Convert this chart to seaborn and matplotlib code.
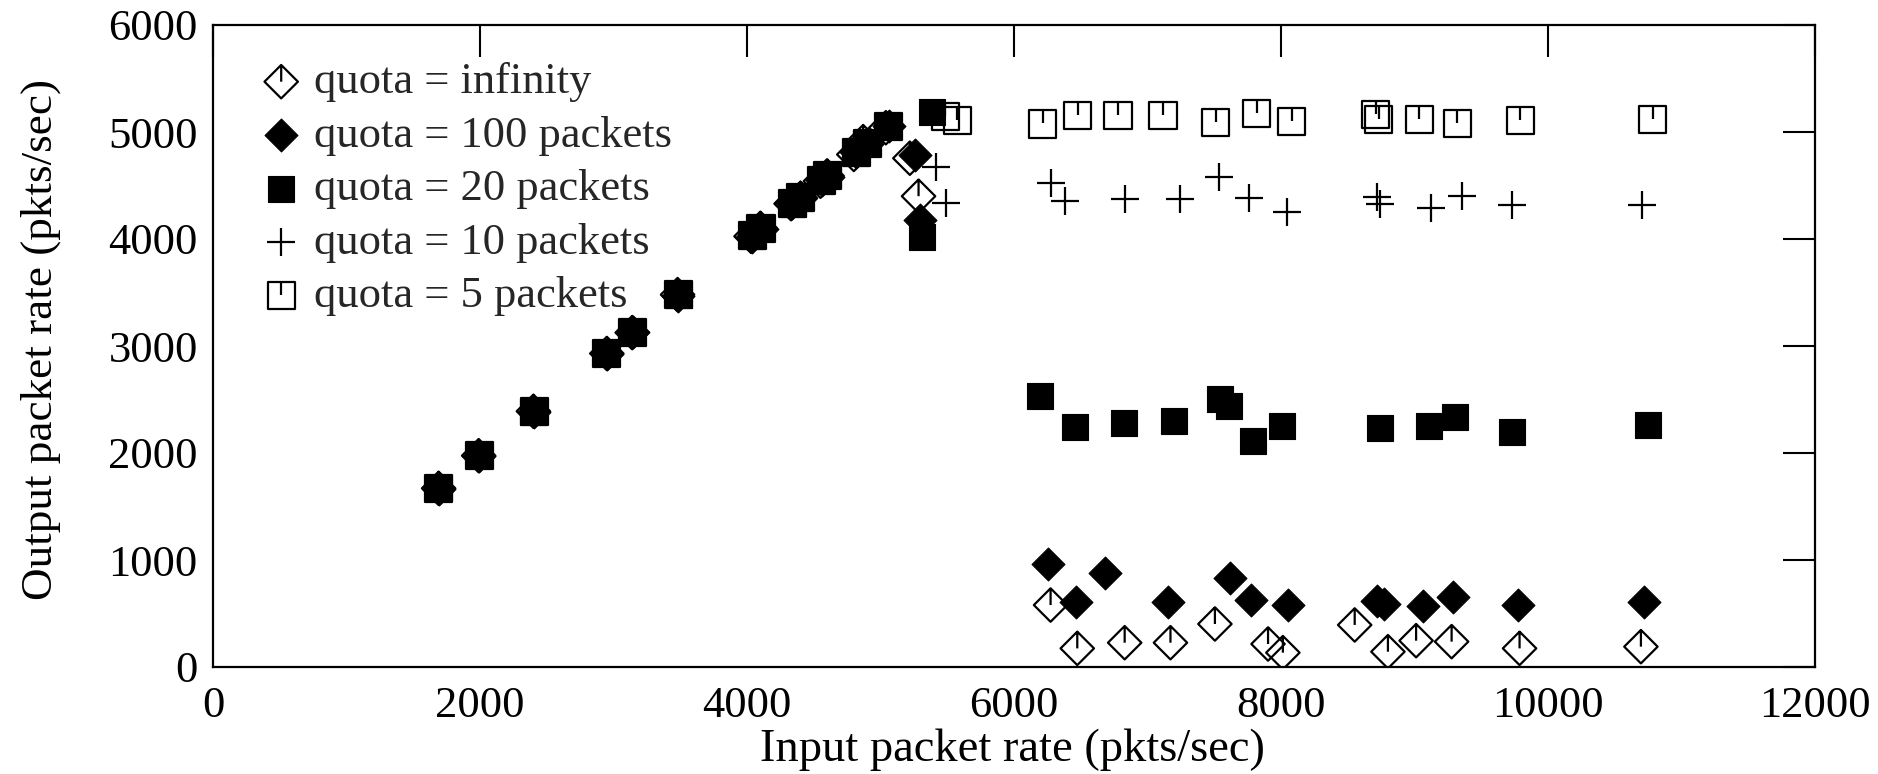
import numpy as np
import pandas as pd
import matplotlib
matplotlib.use("Agg")
import matplotlib.pyplot as plt
from matplotlib.path import Path
import seaborn as sns

# ---------------- data ----------------
labels = ["quota = infinity", "quota = 100 packets", "quota = 20 packets",
          "quota = 10 packets", "quota = 5 packets"]

inf_x = [1690, 1990, 2400, 2950, 3140, 3480, 4030, 4100, 4330, 4400, 4550, 4600, 4800, 4870, 5040,
         5220, 5285, 6274, 6474, 6829, 7172, 7505, 7903, 8014, 8552, 8801, 9012, 9278, 9787, 10696]
inf_y = [1670, 1975, 2390, 2930, 3125, 3480, 4025, 4100, 4330, 4380, 4540, 4590, 4790, 4910, 5040,
         4755, 4400, 579, 174, 227, 227, 402, 215, 134, 393, 143, 246, 237, 174, 190]

q100_x = [1690, 1995, 2405, 2955, 3145, 3485, 4040, 4110, 4340, 4400, 4560, 4610, 4820, 4900, 5060,
          5260, 5296, 6252, 6463, 6679, 7150, 7615, 7776, 8053, 8720, 8773, 9067, 9289, 9776, 10718]
q100_y = [1665, 1970, 2380, 2925, 3130, 3470, 4020, 4095, 4335, 4390, 4550, 4580, 4810, 4890, 5060,
          4785, 4180, 963, 611, 882, 611, 832, 626, 576, 620, 585, 570, 657, 576, 611]

q20_x = [1695, 1990, 2400, 2945, 3140, 3490, 4035, 4105, 4345, 4395, 4555, 4605, 4815, 4895, 5055,
         5309, 5384, 6197, 6457, 6823, 7195, 7544, 7610, 7793, 8008, 8740, 9111, 9305, 9732, 10751]
q20_y = [1675, 1980, 2385, 2935, 3135, 3480, 4030, 4105, 4325, 4385, 4545, 4595, 4805, 4900, 5055,
         4020, 5190, 2536, 2240, 2280, 2296, 2505, 2439, 2112, 2252, 2231, 2250, 2337, 2200, 2265]

q10_x = [1690, 1990, 2400, 2950, 3145, 3485, 4040, 4100, 4340, 4400, 4560, 4600, 4820, 4900, 5060,
         5416, 5491, 6274, 6380, 6832, 7243, 7539, 7757, 8048, 8722, 8739, 9121, 9359, 9734, 10703]
q10_y = [1670, 1975, 2385, 2930, 3130, 3475, 4030, 4100, 4330, 4385, 4550, 4590, 4800, 4900, 5055,
         4670, 4340, 4526, 4358, 4371, 4371, 4583, 4386, 4255, 4389, 4327, 4286, 4402, 4318, 4318]

q5_x = [1690, 1995, 2405, 2950, 3145, 3490, 4040, 4105, 4340, 4400, 4560, 4605, 4820, 4900, 5060,
        5484, 5576, 6216, 6479, 6779, 7116, 7511, 7818, 8081, 8710, 8731, 9035, 9322, 9791, 10786]
q5_y = [1670, 1975, 2385, 2930, 3130, 3480, 4030, 4100, 4335, 4385, 4550, 4590, 4805, 4895, 5055,
        5143, 5106, 5075, 5153, 5153, 5153, 5087, 5174, 5097, 5165, 5118, 5118, 5080, 5106, 5118]

x_ticks = [0, 2000, 4000, 6000, 8000, 10000, 12000]
y_ticks = [0, 1000, 2000, 3000, 4000, 5000, 6000]

# ---------------- style ----------------
sns.set_theme(style="white")
plt.rcParams["font.family"] = ["Liberation Serif", "DejaVu Serif"]

TICK_FS = 32
LEG_FS = 32

# custom markers
open_diamond = Path(
    [(0, 1), (1, 0), (0, -1), (-1, 0), (0, 1), (0, 1), (0, 0)],
    [Path.MOVETO, Path.LINETO, Path.LINETO, Path.LINETO, Path.CLOSEPOLY, Path.MOVETO, Path.LINETO])
filled_diamond = Path(
    [(0, 1), (1, 0), (0, -1), (-1, 0), (0, 1)],
    [Path.MOVETO, Path.LINETO, Path.LINETO, Path.LINETO, Path.CLOSEPOLY])
open_square = Path(
    [(-1, 1), (1, 1), (1, -1), (-1, -1), (-1, 1), (0, 1), (0, 0.05)],
    [Path.MOVETO, Path.LINETO, Path.LINETO, Path.LINETO, Path.CLOSEPOLY, Path.MOVETO, Path.LINETO])

fig = plt.figure(figsize=(18.78, 7.74), dpi=100)
ax = fig.add_axes([213 / 1878, 1 - 667 / 774, (1815 - 213) / 1878, (667 - 25) / 774])

series = [
    (inf_x, inf_y, labels[0], dict(marker=open_diamond, s=580, facecolor="none", edgecolor="black", linewidth=1.6)),
    (q100_x, q100_y, labels[1], dict(marker=filled_diamond, s=560, facecolor="black", edgecolor="black", linewidth=0.8)),
    (q20_x, q20_y, labels[2], dict(marker="s", s=350, facecolor="black", edgecolor="black", linewidth=0.8)),
    (q10_x, q10_y, labels[3], dict(marker="+", s=380, color="black", linewidth=1.6)),
    (q5_x, q5_y, labels[4], dict(marker=open_square, s=380, facecolor="none", edgecolor="black", linewidth=1.6)),
]

for xs, ys, lab, kw in series:
    df = pd.DataFrame({"x": xs, "y": ys})
    sns.scatterplot(data=df, x="x", y="y", ax=ax, label=lab, legend=False, **kw)

ax.set_xlim(0, 12000)
ax.set_ylim(0, 6000)
ax.set_xticks(x_ticks)
ax.set_yticks(y_ticks)
ax.set_xticklabels([str(t) for t in x_ticks])
ax.set_yticklabels([str(t) for t in y_ticks])

for sp in ax.spines.values():
    sp.set_visible(True)
    sp.set_color("black")
    sp.set_linewidth(1.6)

ax.tick_params(axis="both", which="major", direction="in", length=23, width=1.5,
               color="black", labelsize=TICK_FS, top=True, right=True, labelcolor="black")
ax.tick_params(axis="y", pad=11)
ax.tick_params(axis="x", pad=14)

ax.set_xlabel("Input packet rate (pkts/sec)", fontsize=33.5, color="black")
ax.set_ylabel("Output packet rate (pkts/sec)", fontsize=32.5, color="black")
ax.xaxis.set_label_coords((1012 - 213) / 1602, (667 - 750) / 642)
ax.xaxis.label.set_va("center")
ax.yaxis.set_label_coords((41 - 213) / 1602, 0.51)
ax.yaxis.label.set_va("center")

handles, labs = ax.get_legend_handles_labels()
leg = ax.legend(handles, labs, loc="upper left", bbox_to_anchor=(0.0287, 0.942),
                frameon=False, fontsize=LEG_FS, handlelength=1.0, handletextpad=0.24,
                borderpad=0, borderaxespad=0, labelspacing=0.30, scatterpoints=1)

fig.savefig("out.png", dpi=100, facecolor="white")
